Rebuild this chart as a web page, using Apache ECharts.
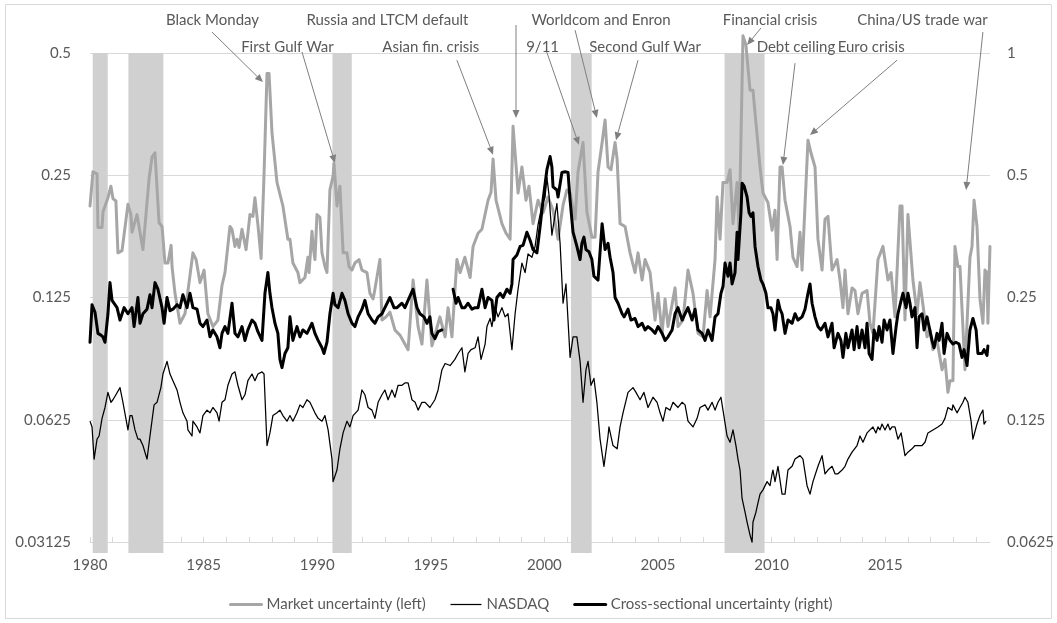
<!DOCTYPE html>
<html>
<head>
<meta charset="utf-8">
<script src="https://cdn.jsdelivr.net/npm/echarts@6/dist/echarts.min.js"></script>
<style>
  html, body { margin: 0; padding: 0; background: #ffffff; }
  #chart { width: 1057px; height: 623px; }
</style>
</head>
<body>
<div id="chart"></div>
<script>
// Axis ticks and labels
const yearTicks = [1980,1981,1982,1983,1984,1985,1986,1987,1988,1989,1990,1991,1992,1993,1994,1995,1996,1997,1998,1999,
                   2000,2001,2002,2003,2004,2005,2006,2007,2008,2009,2010,2011,2012,2013,2014,2015,2016,2017,2018,2019];
const yearLabels = [1980, 1985, 1990, 1995, 2000, 2005, 2010, 2015];
const leftTicks = [0.03125, 0.0625, 0.125, 0.25, 0.5];
const rightTicks = [0.0625, 0.125, 0.25, 0.5, 1];

// NBER recessions [start, end] in decimal years
const recessions = [[1980.12, 1980.78], [1981.69, 1983.23], [1990.67, 1991.52], [2001.17, 2002.08], [2007.93, 2009.69]];

// Market uncertainty (left axis), [decimal year, value]
const marketUncertainty = [
  [1980.00,0.210],[1980.13,0.255],[1980.31,0.252],[1980.35,0.186],[1980.53,0.186],[1980.57,0.203],[1980.79,0.220],[1980.92,0.235],
  [1981.01,0.219],[1981.14,0.216],[1981.23,0.161],[1981.41,0.163],[1981.67,0.212],[1981.80,0.200],[1981.85,0.181],
  [1982.07,0.200],[1982.20,0.181],[1982.33,0.164],[1982.60,0.245],[1982.73,0.277],[1982.86,0.284],
  [1983.04,0.191],[1983.17,0.187],[1983.30,0.152],[1983.43,0.152],[1983.57,0.168],[1983.61,0.149],[1983.74,0.128],[1983.96,0.108],
  [1984.18,0.114],[1984.53,0.161],[1984.67,0.155],[1984.84,0.136],[1985.02,0.146],[1985.19,0.114],[1985.41,0.106],[1985.63,0.110],
  [1985.81,0.134],[1985.94,0.144],[1986.16,0.187],[1986.25,0.184],[1986.38,0.167],[1986.47,0.174],[1986.56,0.166],[1986.69,0.184],
  [1986.87,0.164],[1987.04,0.200],[1987.17,0.198],[1987.26,0.220],[1987.39,0.189],[1987.53,0.156],[1987.66,0.251],[1987.79,0.445],
  [1987.88,0.445],[1988.01,0.318],[1988.23,0.240],[1988.49,0.210],[1988.71,0.174],[1988.80,0.174],[1988.93,0.152],
  [1989.15,0.144],[1989.24,0.136],[1989.46,0.140],[1989.59,0.157],[1989.64,0.144],[1989.77,0.182],[1989.82,0.167],[1989.90,0.155],
  [1989.99,0.200],[1990.12,0.197],[1990.21,0.161],[1990.34,0.149],[1990.43,0.144],[1990.56,0.230],[1990.70,0.249],[1990.74,0.267],
  [1990.87,0.210],[1991.00,0.235],[1991.14,0.161],[1991.31,0.161],[1991.40,0.149],[1991.53,0.146],[1991.66,0.152],[1991.84,0.155],
  [1991.97,0.146],[1992.19,0.144],[1992.32,0.128],[1992.46,0.124],[1992.54,0.131],[1992.76,0.155],[1992.85,0.110],
  [1993.03,0.112],[1993.20,0.115],[1993.42,0.104],[1993.64,0.101],[1994.00,0.093],[1994.22,0.138],[1994.44,0.106],[1994.61,0.096],
  [1994.83,0.138],[1995.05,0.095],[1995.40,0.112],[1995.63,0.100],[1995.76,0.118],[1995.93,0.100],[1996.15,0.155],[1996.29,0.144],
  [1996.50,0.157],[1996.73,0.140],[1996.86,0.167],[1997.08,0.180],[1997.25,0.184],[1997.52,0.217],[1997.65,0.227],[1997.74,0.274],
  [1997.87,0.217],[1998.13,0.190],[1998.31,0.180],[1998.49,0.174],[1998.62,0.330],[1998.75,0.265],[1998.84,0.226],
  [1999.01,0.262],[1999.19,0.217],[1999.32,0.235],[1999.50,0.190],[1999.72,0.217],[1999.94,0.202],
  [2000.16,0.221],[2000.38,0.205],[2000.60,0.174],[2000.82,0.211],[2000.99,0.230],[2001.13,0.226],[2001.35,0.195],[2001.48,0.255],
  [2001.70,0.301],[2001.87,0.203],[2002.09,0.176],[2002.23,0.176],[2002.36,0.255],[2002.54,0.301],[2002.67,0.342],[2002.80,0.262],
  [2002.93,0.258],[2003.11,0.301],[2003.20,0.274],[2003.33,0.190],[2003.55,0.187],[2003.77,0.161],[2003.99,0.144],
  [2004.12,0.161],[2004.30,0.138],[2004.43,0.155],[2004.65,0.144],[2004.87,0.110],[2005.00,0.128],[2005.18,0.102],[2005.31,0.124],
  [2005.44,0.106],[2005.75,0.132],[2005.88,0.106],[2006.10,0.110],[2006.32,0.146],[2006.54,0.128],[2006.76,0.102],[2006.98,0.100],
  [2007.16,0.130],[2007.29,0.112],[2007.51,0.155],[2007.60,0.221],[2007.73,0.174],[2007.86,0.240],[2008.04,0.240],[2008.17,0.258],
  [2008.30,0.190],[2008.48,0.240],[2008.57,0.181],[2008.74,0.551],[2008.87,0.523],[2009.05,0.405],[2009.18,0.405],[2009.27,0.356],
  [2009.49,0.262],[2009.62,0.226],[2009.84,0.214],[2010.02,0.183],[2010.15,0.205],[2010.24,0.155],[2010.37,0.262],[2010.46,0.262],
  [2010.59,0.217],[2010.81,0.187],[2010.94,0.157],[2011.12,0.149],[2011.25,0.181],[2011.34,0.146],[2011.60,0.305],[2011.73,0.284],
  [2011.91,0.262],[2012.04,0.174],[2012.22,0.146],[2012.35,0.195],[2012.48,0.198],[2012.66,0.146],[2012.88,0.155],
  [2013.01,0.138],[2013.14,0.118],[2013.23,0.146],[2013.36,0.114],[2013.54,0.132],[2013.67,0.130],[2013.80,0.114],[2013.98,0.128],
  [2014.20,0.130],[2014.33,0.108],[2014.46,0.102],[2014.68,0.155],[2014.90,0.167],[2015.12,0.138],[2015.26,0.144],[2015.43,0.112],
  [2015.65,0.210],[2015.74,0.210],[2015.87,0.110],[2016.00,0.200],[2016.22,0.138],[2016.40,0.114],[2016.53,0.136],[2016.66,0.120],
  [2016.84,0.100],[2016.97,0.104],[2017.10,0.093],[2017.28,0.098],[2017.50,0.083],[2017.63,0.088],[2017.76,0.073],[2017.85,0.078],
  [2017.98,0.078],[2018.07,0.167],[2018.20,0.149],[2018.29,0.149],[2018.51,0.083],[2018.73,0.157],[2018.82,0.167],[2018.91,0.217],
  [2019.04,0.187],[2019.17,0.124],[2019.30,0.108],[2019.39,0.146],[2019.48,0.144],[2019.52,0.108],[2019.61,0.167]
];

// NASDAQ (left axis scale)
const nasdaq = [
  [1980.00,0.062],[1980.09,0.060],[1980.18,0.050],[1980.31,0.056],[1980.40,0.057],[1980.53,0.063],[1980.66,0.067],[1980.79,0.073],
  [1980.92,0.069],[1981.01,0.070],[1981.14,0.072],[1981.32,0.075],[1981.45,0.069],[1981.67,0.059],[1981.76,0.064],[1981.85,0.064],
  [1981.98,0.059],[1982.11,0.056],[1982.20,0.056],[1982.33,0.054],[1982.51,0.050],[1982.64,0.057],[1982.82,0.068],[1982.95,0.069],
  [1983.12,0.075],[1983.21,0.081],[1983.39,0.087],[1983.52,0.081],[1983.65,0.078],[1983.83,0.074],[1983.96,0.069],
  [1984.09,0.065],[1984.27,0.062],[1984.31,0.059],[1984.49,0.057],[1984.53,0.062],[1984.71,0.060],[1984.84,0.058],[1984.97,0.064],
  [1985.15,0.066],[1985.28,0.065],[1985.41,0.067],[1985.59,0.065],[1985.68,0.062],[1985.81,0.069],[1985.94,0.070],
  [1986.07,0.076],[1986.25,0.081],[1986.38,0.082],[1986.51,0.076],[1986.69,0.070],[1986.82,0.072],[1986.95,0.078],
  [1987.13,0.081],[1987.26,0.078],[1987.39,0.081],[1987.57,0.082],[1987.66,0.081],[1987.79,0.054],[1987.92,0.058],
  [1988.05,0.064],[1988.23,0.065],[1988.36,0.066],[1988.49,0.064],[1988.67,0.062],[1988.80,0.064],[1988.93,0.062],
  [1989.11,0.065],[1989.24,0.068],[1989.37,0.067],[1989.55,0.070],[1989.68,0.069],[1989.90,0.065],
  [1990.04,0.063],[1990.21,0.062],[1990.34,0.064],[1990.48,0.059],[1990.65,0.050],[1990.70,0.044],[1990.87,0.047],
  [1991.00,0.053],[1991.14,0.058],[1991.31,0.062],[1991.44,0.060],[1991.58,0.064],[1991.66,0.064],[1991.80,0.066],[1991.97,0.074],
  [1992.10,0.072],[1992.24,0.067],[1992.41,0.066],[1992.54,0.063],[1992.68,0.069],[1992.85,0.072],[1992.98,0.074],
  [1993.12,0.070],[1993.29,0.074],[1993.42,0.071],[1993.56,0.076],[1993.73,0.076],[1993.86,0.077],[1994.00,0.077],
  [1994.17,0.070],[1994.31,0.069],[1994.44,0.066],[1994.61,0.069],[1994.75,0.069],[1994.96,0.067],
  [1995.18,0.070],[1995.32,0.074],[1995.49,0.083],[1995.63,0.086],[1995.85,0.085],[1996.06,0.088],[1996.20,0.091],[1996.37,0.094],
  [1996.50,0.082],[1996.64,0.091],[1996.77,0.093],[1996.95,0.094],[1997.08,0.100],[1997.21,0.088],[1997.39,0.096],[1997.47,0.106],
  [1997.61,0.111],[1997.69,0.106],[1997.83,0.118],[1997.96,0.112],[1998.13,0.118],[1998.27,0.112],[1998.40,0.114],[1998.57,0.093],
  [1998.71,0.114],[1998.84,0.131],[1999.01,0.152],[1999.15,0.144],[1999.28,0.160],[1999.45,0.157],[1999.59,0.167],[1999.67,0.180],
  [1999.72,0.189],[1999.89,0.210],[2000.03,0.221],[2000.11,0.247],[2000.20,0.224],[2000.33,0.178],[2000.47,0.200],[2000.55,0.213],
  [2000.69,0.170],[2000.82,0.121],[2000.95,0.135],[2001.13,0.089],[2001.26,0.100],[2001.43,0.100],[2001.57,0.087],[2001.70,0.069],
  [2001.83,0.083],[2001.92,0.087],[2002.05,0.076],[2002.18,0.079],[2002.31,0.069],[2002.45,0.056],[2002.62,0.048],[2002.80,0.057],
  [2002.84,0.060],[2003.02,0.054],[2003.20,0.053],[2003.33,0.060],[2003.46,0.065],[2003.68,0.073],[2003.90,0.075],
  [2004.03,0.073],[2004.21,0.070],[2004.38,0.073],[2004.56,0.067],[2004.78,0.071],[2004.96,0.069],[2005.09,0.065],[2005.22,0.062],
  [2005.35,0.067],[2005.53,0.066],[2005.66,0.069],[2005.88,0.067],[2006.06,0.069],[2006.19,0.068],[2006.32,0.062],[2006.54,0.060],
  [2006.72,0.063],[2006.85,0.067],[2007.07,0.068],[2007.20,0.066],[2007.38,0.069],[2007.51,0.066],[2007.64,0.069],[2007.77,0.071],
  [2007.86,0.066],[2008.04,0.057],[2008.17,0.055],[2008.30,0.059],[2008.43,0.054],[2008.52,0.050],[2008.61,0.047],[2008.70,0.040],
  [2008.83,0.037],[2008.92,0.035],[2008.96,0.035],[2009.05,0.0325],[2009.14,0.0312],[2009.18,0.035],[2009.31,0.037],[2009.40,0.039],
  [2009.49,0.041],[2009.62,0.042],[2009.80,0.044],[2009.93,0.043],[2010.02,0.046],[2010.06,0.047],[2010.15,0.044],[2010.28,0.048],
  [2010.46,0.041],[2010.59,0.041],[2010.72,0.047],[2010.90,0.048],[2011.03,0.050],[2011.25,0.051],[2011.38,0.050],[2011.56,0.043],
  [2011.69,0.041],[2011.82,0.044],[2012.04,0.048],[2012.22,0.051],[2012.35,0.046],[2012.48,0.047],[2012.66,0.048],[2012.79,0.046],
  [2012.92,0.046],[2013.10,0.047],[2013.23,0.048],[2013.36,0.050],[2013.54,0.052],[2013.76,0.054],[2013.89,0.057],[2014.02,0.055],
  [2014.20,0.058],[2014.33,0.059],[2014.46,0.060],[2014.59,0.058],[2014.68,0.060],[2014.77,0.059],[2014.86,0.061],[2014.99,0.059],
  [2015.12,0.061],[2015.21,0.059],[2015.30,0.060],[2015.43,0.060],[2015.56,0.056],[2015.70,0.058],[2015.87,0.051],[2016.00,0.052],
  [2016.18,0.053],[2016.31,0.054],[2016.44,0.054],[2016.62,0.054],[2016.75,0.055],[2016.88,0.058],[2017.10,0.059],[2017.32,0.060],
  [2017.50,0.061],[2017.63,0.063],[2017.76,0.067],[2017.94,0.066],[2017.98,0.068],[2018.16,0.065],[2018.29,0.067],[2018.42,0.069],
  [2018.51,0.071],[2018.64,0.069],[2018.78,0.062],[2018.86,0.056],[2019.04,0.061],[2019.17,0.064],[2019.30,0.066],[2019.35,0.061],
  [2019.44,0.062]
];

// Cross-sectional uncertainty (right axis); null marks the break in 1995
const crossSectional = [
  [1980.00,0.194],[1980.09,0.240],[1980.22,0.230],[1980.35,0.204],[1980.48,0.202],[1980.57,0.200],[1980.66,0.194],[1980.79,0.228],
  [1980.88,0.272],[1980.97,0.246],[1981.19,0.236],[1981.32,0.220],[1981.50,0.236],[1981.67,0.228],[1981.85,0.236],[1981.94,0.212],
  [1982.11,0.250],[1982.20,0.216],[1982.33,0.228],[1982.51,0.234],[1982.64,0.254],[1982.73,0.236],[1982.86,0.272],[1982.99,0.262],
  [1983.17,0.236],[1983.26,0.216],[1983.39,0.250],[1983.52,0.232],[1983.65,0.234],[1983.83,0.240],[1983.96,0.236],
  [1984.09,0.254],[1984.27,0.236],[1984.40,0.256],[1984.53,0.236],[1984.71,0.234],[1984.84,0.216],[1984.97,0.212],
  [1985.15,0.220],[1985.28,0.200],[1985.41,0.208],[1985.59,0.200],[1985.72,0.188],[1985.81,0.204],[1985.94,0.212],
  [1986.07,0.204],[1986.25,0.242],[1986.38,0.204],[1986.51,0.200],[1986.69,0.212],[1986.82,0.196],[1986.95,0.208],
  [1987.13,0.220],[1987.26,0.216],[1987.39,0.206],[1987.57,0.196],[1987.70,0.256],[1987.83,0.288],[1987.92,0.256],
  [1988.01,0.236],[1988.14,0.216],[1988.27,0.204],[1988.36,0.176],[1988.45,0.168],[1988.58,0.182],[1988.71,0.188],[1988.80,0.224],
  [1988.93,0.196],[1989.11,0.212],[1989.24,0.200],[1989.37,0.208],[1989.55,0.204],[1989.77,0.216],[1989.90,0.204],
  [1990.04,0.196],[1990.21,0.188],[1990.30,0.182],[1990.43,0.194],[1990.56,0.228],[1990.70,0.256],[1990.78,0.240],[1990.92,0.236],
  [1991.09,0.256],[1991.22,0.246],[1991.36,0.228],[1991.53,0.216],[1991.66,0.212],[1991.80,0.224],[1991.97,0.234],
  [1992.10,0.246],[1992.24,0.228],[1992.41,0.220],[1992.54,0.216],[1992.68,0.224],[1992.85,0.228],[1992.98,0.236],
  [1993.20,0.250],[1993.38,0.236],[1993.51,0.236],[1993.73,0.242],[1993.86,0.236],[1994.00,0.246],[1994.22,0.262],[1994.39,0.236],
  [1994.52,0.228],[1994.70,0.224],[1994.83,0.216],[1994.96,0.224],[1995.05,0.204],[1995.18,0.198],[1995.32,0.206],[1995.49,0.208],
  [1995.75,null],
  [1995.98,0.262],[1996.11,0.242],[1996.20,0.250],[1996.37,0.236],[1996.50,0.236],[1996.64,0.242],[1996.81,0.234],[1996.95,0.236],
  [1997.08,0.236],[1997.25,0.262],[1997.39,0.236],[1997.52,0.250],[1997.69,0.246],[1997.78,0.220],[1997.91,0.250],
  [1998.05,0.256],[1998.18,0.250],[1998.35,0.262],[1998.49,0.256],[1998.57,0.270],[1998.62,0.310],[1998.79,0.318],[1998.93,0.334],
  [1999.06,0.336],[1999.23,0.362],[1999.37,0.346],[1999.50,0.328],[1999.67,0.322],[1999.81,0.374],[1999.94,0.434],
  [2000.11,0.516],[2000.25,0.556],[2000.33,0.524],[2000.38,0.468],[2000.55,0.460],[2000.60,0.442],[2000.77,0.508],[2000.91,0.510],
  [2001.04,0.508],[2001.13,0.434],[2001.21,0.434],[2001.26,0.362],[2001.43,0.334],[2001.57,0.310],[2001.65,0.340],[2001.74,0.352],
  [2001.83,0.328],[2001.96,0.324],[2002.09,0.310],[2002.18,0.282],[2002.36,0.276],[2002.49,0.348],[2002.54,0.380],[2002.67,0.328],
  [2002.80,0.340],[2002.89,0.314],[2003.02,0.288],[2003.11,0.250],[2003.24,0.242],[2003.42,0.228],[2003.51,0.224],[2003.68,0.234],
  [2003.81,0.220],[2003.99,0.222],[2004.12,0.212],[2004.30,0.216],[2004.43,0.208],[2004.56,0.212],[2004.74,0.208],[2004.87,0.204],
  [2005.00,0.212],[2005.18,0.204],[2005.31,0.196],[2005.44,0.200],[2005.62,0.208],[2005.75,0.228],[2005.88,0.236],
  [2006.06,0.220],[2006.19,0.228],[2006.32,0.236],[2006.50,0.220],[2006.63,0.234],[2006.76,0.208],[2006.94,0.204],
  [2007.07,0.196],[2007.20,0.208],[2007.38,0.196],[2007.51,0.224],[2007.64,0.228],[2007.77,0.256],[2007.86,0.266],[2007.95,0.304],
  [2008.08,0.282],[2008.17,0.304],[2008.26,0.270],[2008.39,0.288],[2008.48,0.362],[2008.52,0.310],[2008.65,0.404],[2008.70,0.478],
  [2008.79,0.470],[2008.92,0.442],[2009.01,0.404],[2009.09,0.396],[2009.18,0.404],[2009.27,0.334],[2009.40,0.298],[2009.53,0.276],
  [2009.62,0.270],[2009.75,0.256],[2009.84,0.236],[2009.97,0.236],[2010.06,0.228],[2010.15,0.208],[2010.28,0.246],[2010.37,0.234],
  [2010.46,0.228],[2010.59,0.204],[2010.72,0.220],[2010.90,0.216],[2011.03,0.228],[2011.16,0.220],[2011.34,0.224],[2011.47,0.234],
  [2011.60,0.256],[2011.69,0.270],[2011.78,0.242],[2011.91,0.224],[2012.04,0.212],[2012.17,0.208],[2012.35,0.216],[2012.48,0.200],
  [2012.66,0.216],[2012.75,0.188],[2012.92,0.204],[2013.05,0.196],[2013.14,0.178],[2013.27,0.204],[2013.36,0.188],[2013.54,0.208],
  [2013.63,0.186],[2013.76,0.212],[2013.85,0.188],[2013.98,0.208],[2014.11,0.188],[2014.20,0.216],[2014.29,0.182],[2014.42,0.176],
  [2014.51,0.208],[2014.64,0.196],[2014.73,0.212],[2014.86,0.194],[2014.95,0.220],[2015.08,0.208],[2015.21,0.220],[2015.34,0.182],
  [2015.48,0.212],[2015.56,0.228],[2015.70,0.246],[2015.78,0.256],[2015.92,0.236],[2016.00,0.256],[2016.09,0.242],[2016.18,0.224],
  [2016.31,0.236],[2016.40,0.188],[2016.49,0.224],[2016.62,0.228],[2016.71,0.208],[2016.84,0.224],[2016.93,0.212],[2017.06,0.196],
  [2017.15,0.188],[2017.28,0.204],[2017.37,0.196],[2017.50,0.216],[2017.59,0.182],[2017.72,0.204],[2017.85,0.196],[2017.98,0.192],
  [2018.11,0.194],[2018.25,0.192],[2018.38,0.178],[2018.47,0.186],[2018.60,0.170],[2018.73,0.208],[2018.86,0.222],[2019.00,0.208],
  [2019.08,0.182],[2019.26,0.182],[2019.35,0.186],[2019.48,0.180],[2019.52,0.190]
];

// Event callouts: text centre, arrow start and arrow tip, as [year, left-axis value]
const events = [
  { text: 'Black Monday',            at: [1985.39, 0.603], from: [1985.37, 0.563], to: [1987.61, 0.424] },
  { text: 'First Gulf War',          at: [1988.69, 0.517], from: [1989.33, 0.503], to: [1990.78, 0.268] },
  { text: 'Russia and LTCM default', at: [1993.09, 0.603], from: [1998.75, 0.586], to: [1998.75, 0.346] },
  { text: 'Asian fin. crisis',       at: [1995.00, 0.517], from: [1996.15, 0.480], to: [1997.74, 0.281] },
  { text: '9/11',                    at: [1999.92, 0.517], from: [2000.07, 0.509], to: [2001.52, 0.297] },
  { text: 'Worldcom and Enron',      at: [2002.49, 0.603], from: [2001.35, 0.569], to: [2002.31, 0.346] },
  { text: 'Second Gulf War',         at: [2004.43, 0.517], from: [2004.12, 0.480], to: [2003.15, 0.305] },
  { text: 'Financial crisis',        at: [2009.93, 0.603], from: [2009.53, 0.576], to: [2008.92, 0.523] },
  { text: 'Debt ceiling',            at: [2011.07, 0.517], from: [2011.03, 0.472], to: [2010.50, 0.265] },
  { text: 'Euro crisis',             at: [2014.38, 0.517], from: [2015.52, 0.480], to: [2011.69, 0.314] },
  { text: 'China/US trade war',      at: [2016.64, 0.603], from: [2019.30, 0.563], to: [2018.56, 0.230] }
];

const FONT = 'Lato, "Open Sans", sans-serif';
const FONT_SIZE = 15;
const TEXT_GREY = '#595959';
const GRID_GREY = '#d9d9d9';
const ARROW_GREY = '#7f7f7f';
const LIGHT_LINE = '#a6a6a6';

const fmt = v => String(+(+v).toPrecision(8));

const chart = echarts.init(document.getElementById('chart'), null, { renderer: 'canvas' });

chart.setOption({
  animation: false,
  backgroundColor: '#ffffff',
  grid: { left: 90, right: 67, top: 53, bottom: 81, containLabel: false },
  xAxis: [{
    type: 'value', min: 1980, max: 2019.61,
    axisLine: { show: true, lineStyle: { color: GRID_GREY, width: 1 } },
    axisTick: { show: true, inside: true, length: 5, customValues: yearTicks, lineStyle: { color: GRID_GREY } },
    axisLabel: { customValues: yearLabels, color: TEXT_GREY, fontSize: FONT_SIZE, fontFamily: FONT, margin: 16, formatter: v => String(v) },
    splitLine: { show: false }
  }],
  yAxis: [{
    type: 'log', logBase: 2, min: 0.03125, max: 0.5,
    axisLine: { show: false }, axisTick: { show: false },
    axisLabel: { customValues: leftTicks, color: TEXT_GREY, fontSize: FONT_SIZE, fontFamily: FONT, margin: 19, formatter: fmt },
    splitLine: { show: true, lineStyle: { color: GRID_GREY, width: 1 } }
  }, {
    type: 'log', logBase: 2, min: 0.0625, max: 1, position: 'right',
    axisLine: { show: false }, axisTick: { show: false },
    axisLabel: { customValues: rightTicks, color: TEXT_GREY, fontSize: FONT_SIZE, fontFamily: FONT, margin: 17, formatter: fmt },
    splitLine: { show: false }
  }],
  legend: {
    top: 592, left: 224,
    itemWidth: 31, itemHeight: 12, itemGap: 24,
    itemStyle: { opacity: 0 },
    textStyle: { color: TEXT_GREY, fontSize: FONT_SIZE, fontFamily: FONT },
    data: [
      { name: 'Market uncertainty (left)', lineStyle: { width: 3, color: LIGHT_LINE }, textStyle: { width: 184 } },
      { name: 'NASDAQ', lineStyle: { width: 1.25, color: '#000000' }, textStyle: { width: 67 } },
      { name: 'Cross-sectional uncertainty (right)', lineStyle: { width: 3, color: '#000000' } }
    ]
  },
  series: [
    {
      name: 'Recessions', type: 'custom', xAxisIndex: 0, yAxisIndex: 0, silent: true, z: 1,
      data: recessions,
      encode: { x: [0, 1], y: 1 },
      renderItem: (params, api) => {
        const cs = params.coordSys;
        const x0 = api.coord([api.value(0), 0.5])[0];
        const x1 = api.coord([api.value(1), 0.5])[0];
        return {
          type: 'rect',
          shape: { x: x0, y: cs.y, width: x1 - x0, height: cs.height + 11 },
          style: { fill: '#d0d0d0' }
        };
      }
    },
    {
      name: 'Market uncertainty (left)', type: 'line', yAxisIndex: 0, data: marketUncertainty,
      symbol: 'none', showSymbol: false, clip: false, z: 3,
      lineStyle: { color: LIGHT_LINE, width: 3, join: 'round', cap: 'round' },
      itemStyle: { color: LIGHT_LINE }
    },
    {
      name: 'NASDAQ', type: 'line', yAxisIndex: 0, data: nasdaq,
      symbol: 'none', showSymbol: false, z: 4,
      lineStyle: { color: '#000000', width: 1.25, join: 'round' },
      itemStyle: { color: '#000000' }
    },
    {
      name: 'Cross-sectional uncertainty (right)', type: 'line', yAxisIndex: 1, data: crossSectional,
      symbol: 'none', showSymbol: false, connectNulls: false, z: 5,
      lineStyle: { color: '#000000', width: 3, join: 'round', cap: 'round' },
      itemStyle: { color: '#000000' }
    }
  ]
});

// Callout texts and arrows, placed through the axes
function buildCallouts() {
  const toPx = p => chart.convertToPixel({ xAxisIndex: 0, yAxisIndex: 0 }, p);
  const items = [];
  events.forEach(ev => {
    const c = toPx(ev.at), a = toPx(ev.from), b = toPx(ev.to);
    const dx = b[0] - a[0], dy = b[1] - a[1];
    const len = Math.sqrt(dx * dx + dy * dy) || 1;
    const ux = dx / len, uy = dy / len;
    const head = 8, half = 3.5;
    const bx = b[0] - ux * head, by = b[1] - uy * head;
    items.push({
      type: 'line', silent: true, z: 20,
      shape: { x1: a[0], y1: a[1], x2: bx, y2: by },
      style: { stroke: ARROW_GREY, lineWidth: 1 }
    });
    items.push({
      type: 'polygon', silent: true, z: 20,
      shape: { points: [[b[0], b[1]], [bx - uy * half, by + ux * half], [bx + uy * half, by - ux * half]] },
      style: { fill: ARROW_GREY }
    });
    items.push({
      type: 'text', silent: true, z: 21,
      x: c[0], y: c[1],
      style: { text: ev.text, fill: TEXT_GREY, font: FONT_SIZE + 'px ' + FONT, align: 'center', verticalAlign: 'middle' }
    });
  });
  items.push({
    type: 'rect', silent: true, z: 0,
    shape: { x: 5.5, y: 4.5, width: 1046, height: 614 },
    style: { fill: 'none', stroke: GRID_GREY, lineWidth: 1 }
  });
  chart.setOption({ graphic: items });
}
buildCallouts();
</script>
</body>
</html>
